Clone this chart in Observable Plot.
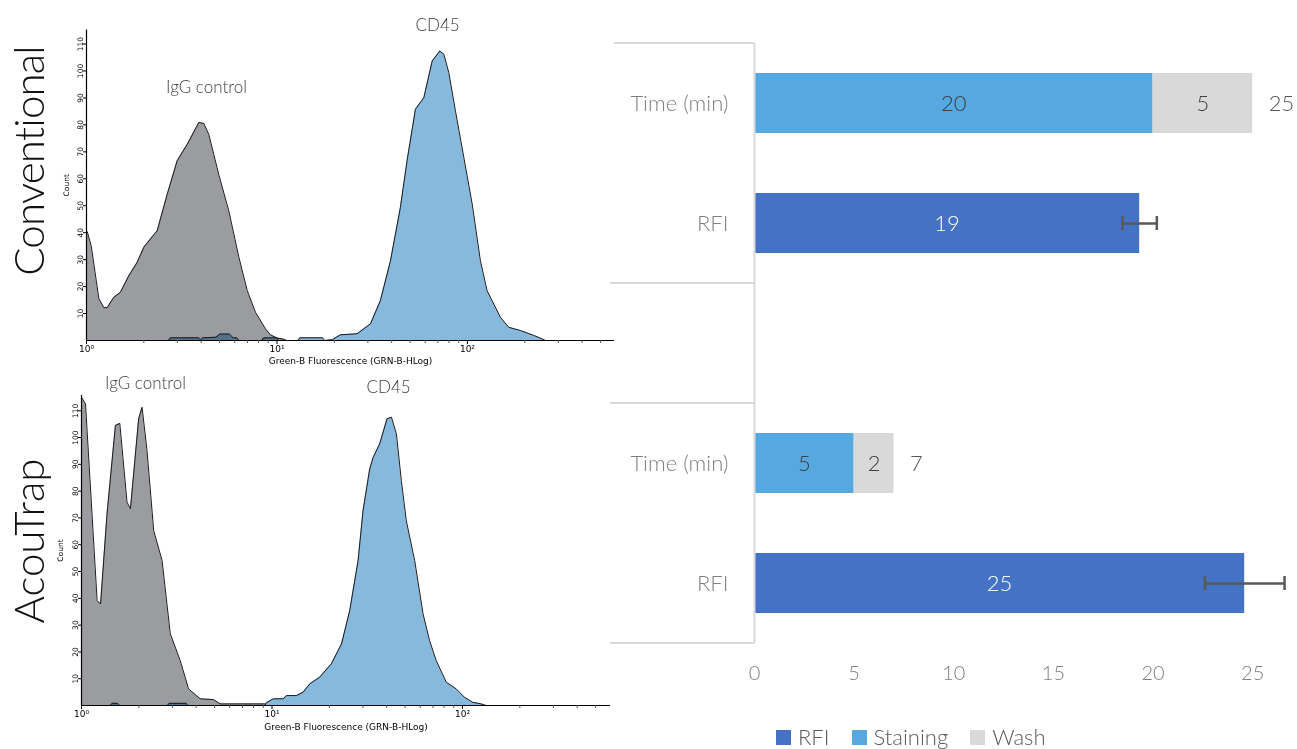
<!DOCTYPE html>
<html><head><meta charset="utf-8">
<script src="https://cdn.jsdelivr.net/npm/d3@7"></script>
<script src="https://cdn.jsdelivr.net/npm/@observablehq/plot@0.6"></script>
<style>
body{margin:0;background:#fff;}
#root{position:relative;width:1297px;height:749px;overflow:hidden;font-family:Lato,sans-serif;}
.abs{position:absolute;}
.big{position:absolute;transform:translate(-50%,-50%) rotate(-90deg);white-space:nowrap;font-family:Lato,sans-serif;font-weight:300;font-size:42px;line-height:1;color:#111;}
#legend{position:absolute;left:776px;top:726px;display:flex;align-items:center;font-family:Lato,sans-serif;font-weight:300;font-size:22px;line-height:22px;color:#595959;}
#legend .it{display:flex;align-items:center;margin-right:22px;}
#legend .sw{width:15px;height:15px;margin-right:7px;}
</style></head><body><div id="root"></div>
<script>
// ---------- Histogram data: [log10(fluorescence), count] ----------
const convIgG = [[0,40.4],[0.004,40.4],[0.025,35],[0.065,15.5],[0.091,12.2],[0.109,12.2],[0.143,16],[0.178,17.9],[0.222,24],[0.266,29],[0.301,34.6],[0.345,38.5],[0.371,40.7],[0.424,54.3],[0.476,66.7],[0.529,72.8],[0.590,80.9],[0.616,80.5],[0.642,76.5],[0.694,61.7],[0.747,48.1],[0.800,30.9],[0.844,18.5],[0.887,10.5],[0.940,4.3],[0.966,2.1],[1.001,0.9],[1.036,0.5],[1.05,0]];
const convCD45 = [[0.43,0],[0.44,1],[0.59,1],[0.60,0.3],[0.61,1],[0.68,1.2],[0.70,2.4],[0.75,2.4],[0.77,1],[0.79,1],[0.80,0],[0.92,0],[0.93,1],[1.0,1],[1.01,0],[1.11,0],[1.12,1],[1.24,1],[1.25,0],[1.29,0.3],[1.333,2.1],[1.421,2.5],[1.491,6.2],[1.543,14.8],[1.596,29.6],[1.648,49.4],[1.683,66.7],[1.727,85.8],[1.771,90.1],[1.815,103.7],[1.855,107.4],[1.876,106.2],[1.902,99.4],[1.937,85.2],[1.981,67.9],[2.025,50.6],[2.068,29.6],[2.103,18.5],[2.173,8.6],[2.217,4.9],[2.278,3.7],[2.348,1.9],[2.392,0.6],[2.41,0]];
const acouIgG = [[0,115],[0.021,112.6],[0.082,39.2],[0.1,37.9],[0.134,71.5],[0.178,104.5],[0.201,105.3],[0.239,75.9],[0.257,73.4],[0.300,107],[0.318,111.3],[0.344,95.1],[0.379,65.3],[0.423,54.1],[0.466,26.8],[0.518,16.8],[0.562,6.2],[0.623,2.5],[0.693,2.2],[0.728,0.6],[0.963,0.6],[0.97,0]];
const acouCD45 = [[0.15,0],[0.16,0.8],[0.19,0.8],[0.2,0],[0.45,0],[0.46,0.8],[0.55,0.8],[0.56,0],[0.963,0],[0.97,1],[1.007,2.5],[1.059,2.5],[1.077,3.7],[1.129,3.7],[1.164,5],[1.199,8.1],[1.251,10.6],[1.312,15.6],[1.365,23],[1.408,35.4],[1.452,54.1],[1.478,72.8],[1.513,88.3],[1.531,92.6],[1.565,97.6],[1.604,107],[1.627,107.6],[1.653,101.4],[1.679,84],[1.705,69],[1.749,54.1],[1.793,34.2],[1.827,24.3],[1.862,16.8],[1.915,8.7],[1.967,6.2],[2.010,3.1],[2.054,1.2],[2.098,0.6],[2.124,0]];
const convNotes = [{text:"IgG control", log:0.63, count:94},{text:"CD45", log:1.843, count:117}];
const acouNotes = [{text:"IgG control", log:0.336, count:120},{text:"CD45", log:1.612, count:118.7}];
const majorX = [1, 10, 100];
const minorX = [2,3,4,5,6,7,8,9,20,30,40,50,60,70,80,90,200,300,400,500];
const countTicks = [10,20,30,40,50,60,70,80,90,100,110];
const panelNames = ["Conventional", "AcouTrap"];

// ---------- Bar chart data ----------
const groups = ["Conventional", "AcouTrap"];
const staining = [20, 5];
const wash = [5, 2];
const rfi = [19.33, 24.6];
const rfiErr = [0.86, 2.0];
const seriesNames = ["RFI", "Staining", "Wash"];
const seriesColors = ["#4472C4", "#56A8E0", "#D9D9D9"];
const xTicks = [0, 5, 10, 15, 20, 25];

const root = document.getElementById("root");
const sup = {0:"\u2070",1:"\u00B9",2:"\u00B2"};

function histogram({igg, cd45, notes, xMaxLog, yMax, width, height, mL, mR, mT, mB, labelOffsetX, labelOffsetY}) {
  const rows = arr => arr.map(([l, c]) => ({f: 10 ** l, c}));
  const a = rows(igg), b = rows(cd45);
  return Plot.plot({
    width, height, marginLeft: mL, marginRight: mR, marginTop: mT, marginBottom: mB,
    style: {fontFamily: "'DejaVu Sans', Verdana, sans-serif", fontSize: "8px", color: "#000", background: "transparent", overflow: "visible"},
    x: {type: "log", domain: [1, 10 ** xMaxLog]},
    y: {domain: [0, yMax]},
    marks: [
      Plot.areaY(a, {x: "f", y: "c", fill: "#9a9ca0"}),
      Plot.lineY(a, {x: "f", y: "c", stroke: "#1a1a1a", strokeWidth: 1}),
      Plot.areaY(b, {x: "f", y: "c", fill: "#87b9dd", mixBlendMode: "multiply"}),
      Plot.lineY(b, {x: "f", y: "c", stroke: "#1a1a1a", strokeWidth: 1}),
      Plot.ruleY([0], {stroke: "#000", strokeWidth: 1}),
      Plot.ruleX([1], {stroke: "#000", strokeWidth: 1.2}),
      Plot.axisX(minorX, {tickSize: 3, tickFormat: () => "", label: null, stroke: "#555"}),
      Plot.axisX(majorX, {tickSize: 4, tickPadding: 1, fontSize: 9, tickFormat: d => "10" + sup[Math.round(Math.log10(d))],
        label: "Green-B Fluorescence (GRN-B-HLog)", labelAnchor: "center", labelArrow: "none", labelOffset: labelOffsetX}),
      Plot.axisY(countTicks, {tickSize: 3, tickPadding: 1, tickRotate: -90, fontSize: 7.5,
        label: "Count", labelAnchor: "center", labelArrow: "none", labelOffset: labelOffsetY}),
      Plot.text(notes, {x: d => 10 ** d.log, y: "count", text: "text", fontFamily: "Lato, sans-serif", fontWeight: 300, fontSize: 17, fill: "#404040"})
    ]
  });
}

const h1 = histogram({igg: convIgG, cd45: convCD45, notes: convNotes, xMaxLog: 2.772, yMax: 115.2,
  width: 620, height: 370, mL: 86, mR: 6, mT: 29.5, mB: 30, labelOffsetX: 23, labelOffsetY: 23});
h1.classList.add("abs"); h1.style.left = "0px"; h1.style.top = "0px";

const h2 = histogram({igg: acouIgG, cd45: acouCD45, notes: acouNotes, xMaxLog: 2.777, yMax: 115.7,
  width: 620, height: 379, mL: 81, mR: 10, mT: 25, mB: 44, labelOffsetX: 24, labelOffsetY: 24});
h2.classList.add("abs"); h2.style.left = "0px"; h2.style.top = "370px";

// ---------- Bar chart ----------
const keys = [groups[0] + "|Time (min)", groups[0] + "|RFI", "gap", groups[1] + "|Time (min)", groups[1] + "|RFI"];
const rows = [];
const totals = [];
const errs = [];
groups.forEach((g, i) => {
  rows.push({cat: g + "|Time (min)", series: "Staining", value: staining[i]});
  rows.push({cat: g + "|Time (min)", series: "Wash", value: wash[i]});
  rows.push({cat: g + "|RFI", series: "RFI", value: rfi[i]});
  totals.push({cat: g + "|Time (min)", total: staining[i] + wash[i]});
  errs.push({cat: g + "|RFI", lo: rfi[i] - rfiErr[i], hi: rfi[i] + rfiErr[i]});
});
const timeRows = rows.filter(d => d.series !== "RFI");
const rfiRows = rows.filter(d => d.series === "RFI");
const errColor = "#595959";

const bar = Plot.plot({
  width: 697, height: 700, marginLeft: 154, marginRight: 1, marginTop: 43, marginBottom: 57,
  style: {fontFamily: "Lato, sans-serif", fontWeight: 300, fontSize: "22px", color: "#7f7f7f", background: "transparent", overflow: "visible"},
  x: {domain: [0, 27.2]},
  y: {type: "band", domain: keys, paddingInner: 0.5, paddingOuter: 0.25},
  color: {domain: seriesNames, range: seriesColors},
  marks: [
    Plot.barX(rows, {x: "value", y: "cat", fill: "series"}),
    Plot.text(timeRows, Plot.stackX({x: "value", y: "cat", text: d => Math.round(d.value), fill: "#404040", fontSize: 22, fontWeight: 300})),
    Plot.text(rfiRows, Plot.stackX({x: "value", y: "cat", text: d => Math.round(d.value), fill: "#ffffff", fontSize: 22, fontWeight: 300})),
    Plot.text(totals, {x: "total", y: "cat", text: "total", textAnchor: "start", dx: 16, fill: "#595959", fontSize: 22, fontWeight: 300}),
    Plot.ruleY(errs, {y: "cat", x1: "lo", x2: "hi", stroke: errColor, strokeWidth: 2.5}),
    Plot.tickX(errs, {x: "lo", y: "cat", insetTop: 23, insetBottom: 23, stroke: errColor, strokeWidth: 2.5}),
    Plot.tickX(errs, {x: "hi", y: "cat", insetTop: 23, insetBottom: 23, stroke: errColor, strokeWidth: 2.5}),
    Plot.ruleX([0], {stroke: "#d9d9d9", strokeWidth: 2}),
    Plot.axisX(xTicks, {tickSize: 0, tickPadding: 22, fontSize: 20, fill: "#7f7f7f", label: null}),
    Plot.axisY({tickSize: 0, tickPadding: 26, fontSize: 22, fill: "#7f7f7f", label: null,
      tickFormat: k => k === "gap" ? "" : k.split("|")[1]})
  ]
});
bar.classList.add("abs"); bar.style.left = "600px"; bar.style.top = "0px";

// group separator lines of the category axis, positioned via the plot's y scale
const ys = bar.scale("y");
const half = (ys.step - ys.bandwidth) / 2;
const bounds = [ys.range[0], ys.apply("gap") - half, ys.apply(keys[3]) - half, ys.range[1]];
const svgSel = d3.select(bar.tagName.toLowerCase() === "svg" ? bar : bar.querySelector("svg"));
svgSel.append("g").selectAll("line").data(bounds).join("line")
  .attr("x1", (d, i) => i === 0 ? 14 : 10).attr("x2", 154)
  .attr("y1", d => d).attr("y2", d => d)
  .attr("stroke", "#d9d9d9").attr("stroke-width", 2);

root.appendChild(bar);
root.appendChild(h1);
root.appendChild(h2);

// big rotated panel titles
[161, 541].forEach((y, i) => {
  const d = document.createElement("div");
  d.className = "big"; d.textContent = panelNames[i];
  d.style.left = "28px"; d.style.top = y + "px";
  if (i === 0) d.style.letterSpacing = "-0.8px";
  root.appendChild(d);
});

// legend
const lg = document.createElement("div");
lg.id = "legend";
seriesNames.forEach((s, i) => {
  const it = document.createElement("div"); it.className = "it";
  const sw = document.createElement("div"); sw.className = "sw"; sw.style.background = seriesColors[i];
  const tx = document.createElement("span"); tx.textContent = s;
  it.appendChild(sw); it.appendChild(tx); lg.appendChild(it);
});
root.appendChild(lg);
</script></body></html>
